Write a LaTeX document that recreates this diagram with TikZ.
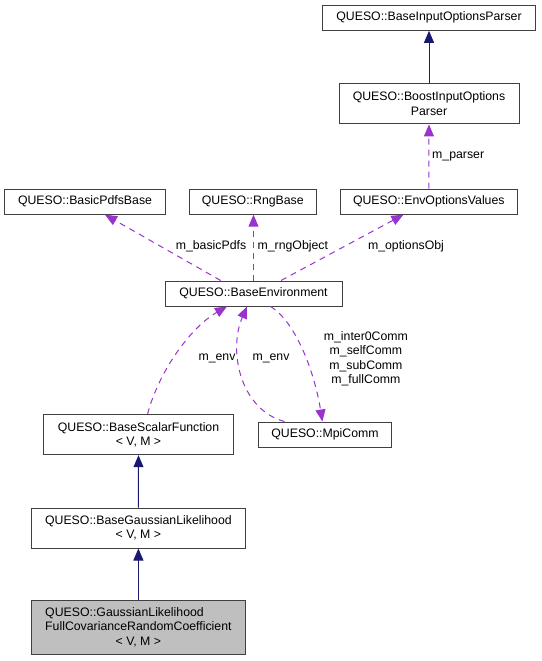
\documentclass[tikz,border=0pt]{standalone}
\usepackage{fontspec}
\setmainfont{Liberation Sans}
\usetikzlibrary{arrows.meta}

\definecolor{edgeblue}{HTML}{191970}
\definecolor{edgepurple}{HTML}{9A32CD}
\definecolor{boxgrey}{HTML}{BFBFBF}

\begin{document}
\begin{tikzpicture}[
    x=1pt, y=-1pt,
    cls/.style={rectangle, draw=black!75, line width=1pt, inner sep=0pt,
                minimum height=25pt, align=center,
                font=\fontsize{12.3}{14.6}\selectfont},
    inherit/.style={-{Triangle[length=12pt,width=10pt]}, edgeblue, line width=1pt},
    usage/.style={-{Triangle[length=12pt,width=10pt]}, edgepurple, line width=1pt,
                  dash pattern=on 6pt off 5pt},
    member/.style={inner sep=0pt, align=center, font=\fontsize{12.3}{14.6}\selectfont}
]
\useasboundingbox (0,0) rectangle (541,661);

% Class boxes
\node[cls, minimum width=213pt] (inparser) at (429,17.8) {QUESO::BaseInputOptionsParser};
\node[cls, minimum width=180pt, minimum height=40.3pt] (boost) at (429,103.8) {QUESO::BoostInputOptions\\Parser};
\node[cls, minimum width=161.5pt] (pdfs) at (85,201.7) {QUESO::BasicPdfsBase};
\node[cls, minimum width=127pt] (rng) at (252.8,201.7) {QUESO::RngBase};
\node[cls, minimum width=177.6pt] (envopt) at (428.8,201.7) {QUESO::EnvOptionsValues};
\node[cls, minimum width=177pt] (env) at (253.5,293.5) {QUESO::BaseEnvironment};
\node[cls, minimum width=190.7pt, minimum height=40pt] (scalar) at (138.5,434.7) {QUESO::BaseScalarFunction\\< V, M >};
\node[cls, minimum width=133.4pt] (mpi) at (325,434.5) {QUESO::MpiComm};
\node[cls, minimum width=214.8pt, minimum height=40pt] (gauss) at (138.4,528) {QUESO::BaseGaussianLikelihood\\< V, M >};
\node[cls, minimum width=214.8pt, minimum height=54.3pt, fill=boxgrey] (full) at (138.4,627.8)
    {\begin{tabular}{@{}l@{}}QUESO::GaussianLikelihood\\FullCovarianceRandomCoefficient\\\multicolumn{1}{@{}c@{}}{< V, M >}\end{tabular}};

% Inheritance
\draw[inherit] (boost.north) -- (inparser.south);
\draw[inherit] (gauss.north -| full.north) -- (scalar.south);
\draw[inherit] (full.north) -- (gauss.south);

% Usage
\draw[usage] (envopt.north) -- (boost.south);
\draw[usage] ([xshift=-32.8pt]env.north) -- ([xshift=20pt]pdfs.south);
\draw[usage] (env.north) -- (env.north |- rng.south);
\draw[usage] ([xshift=27.5pt]env.north) -- ([xshift=-25.4pt]envopt.south);
\draw[usage] ([xshift=9pt]scalar.north) .. controls +(12,-45) and +(-35,20) .. ([xshift=-26.5pt]env.south);
\draw[usage] ([xshift=-40.5pt]mpi.north) .. controls +(-44.5,-12) and +(-19,44) .. ([xshift=-6.5pt]env.south);
\draw[usage] ([xshift=17pt]env.south) .. controls +(25,15) and +(-8,-50) .. ([xshift=-2.6pt]mpi.north);

% Member labels
\node[member, anchor=west] (lparser) at (432,156.7) {m\_parser};
\node[member] (lpdfs) at (211,246.7) {m\_basicPdfs};
\node[member] (lrng) at (292.8,246.7) {m\_rngObject};
\node[member] (lopt) at (406,246.7) {m\_optionsObj};
\node[member] (lenvscalar) at (217,358.7) {m\_env};
\node[member] (lenvmpi) at (271,358.7) {m\_env};
\node[member] (lcomm) at (365.9,358.7) {m\_inter0Comm\\m\_selfComm\\m\_subComm\\m\_fullComm};

\end{tikzpicture}
\end{document}
